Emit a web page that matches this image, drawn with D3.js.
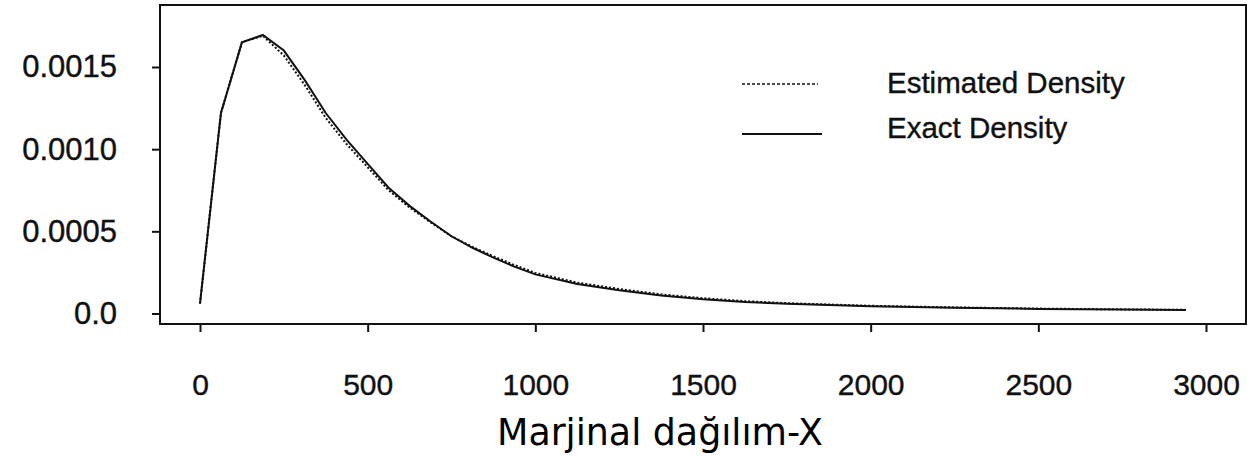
<!DOCTYPE html>
<meta charset="utf-8">
<html>
<head>
    <meta charset="UTF-8">
    <title>Marjinal dagilim-X</title>
    <script src="https://d3js.org/d3.v7.min.js"></script>
    <style>
        body { margin: 0; background: white; }
    </style>
</head>
<body>
    <svg width=1247 height=456 id="chart"></svg>
    <script>
        // values (density in units of 1e-4)
        var xs = [0, 62.5, 125, 187.5, 250, 312.5, 375, 437.5, 500, 562.5, 625, 687.5, 750, 812.5, 875, 937.5,
                  1000, 1125, 1250, 1375, 1500, 1625, 1750, 2000, 2250, 2500, 2750, 2940];
        var exact = [0.6, 12.2, 16.5, 16.95, 16.0, 14.2, 12.2, 10.56, 9.1, 7.65, 6.55, 5.6, 4.7, 4.0, 3.4, 2.85,
                     2.38, 1.8, 1.42, 1.1, 0.87, 0.7, 0.59, 0.44, 0.35, 0.28, 0.24, 0.21];
        var estimated = [0.6, 12.2, 16.5, 16.9, 15.7, 13.9, 11.9, 10.3, 8.9, 7.5, 6.45, 5.55, 4.7, 4.05, 3.48, 2.95,
                         2.47, 1.88, 1.49, 1.16, 0.93, 0.75, 0.63, 0.47, 0.37, 0.3, 0.25, 0.22];
        var xTicks = [0, 500, 1000, 1500, 2000, 2500, 3000];
        var yTicks = [0, 0.0005, 0.0010, 0.0015];
        var yTickLabels = ["0.0", "0.0005", "0.0010", "0.0015"];
        var legendLabels = ["Estimated Density", "Exact Density"];
        var xTitle = "Marjinal dağılım-X";

        var svg = d3.select("#chart");
        // frame edges (don't use "top", it is window.top)
        var frameL = 160, frameR = 1246, frameT = 5, frameB = 324;

        var x = d3.scaleLinear().domain([0, 3000]).range([200, 1206]);
        var y = d3.scaleLinear().domain([0, 0.0015]).range([313.5, 67]);

        // axes
        svg.append("g").attr("transform", "translate(0," + frameB + ")")
            .call(d3.axisBottom(x).tickValues(xTicks).tickSize(8).tickPadding(42).tickFormat(d3.format("d")))
            .call(g => g.select(".domain").remove())
            .call(g => g.selectAll("line").attr("stroke", "#111").attr("stroke-width", 2))
            .call(g => g.selectAll("text").attr("font-family", "'Liberation Sans', Arial, sans-serif")
                .attr("font-size", 30).attr("fill", "#111").attr("stroke", "#111").attr("stroke-width", 0.4));

        svg.append("g").attr("transform", "translate(" + frameL + ",0)")
            .call(d3.axisLeft(y).tickValues(yTicks).tickSize(8).tickPadding(35)
                .tickFormat((d, i) => yTickLabels[i]))
            .call(g => g.select(".domain").remove())
            .call(g => g.selectAll("line").attr("stroke", "#111").attr("stroke-width", 2))
            .call(g => g.selectAll("text").attr("font-family", "'Liberation Sans', Arial, sans-serif")
                .attr("font-size", 31).attr("fill", "#111").attr("stroke", "#111").attr("stroke-width", 0.4));

        // frame
        svg.append("rect").attr("x", frameL).attr("y", frameT)
            .attr("width", frameR - frameL).attr("height", frameB - frameT)
            .attr("fill", "none").attr("stroke", "#111").attr("stroke-width", 2);

        // curves
        var line = d3.line().x(d => x(d[0])).y(d => y(d[1] * 1e-4));
        svg.append("path").datum(xs.map((d, i) => [d, estimated[i]])).attr("d", line)
            .attr("fill", "none").attr("stroke", "#111").attr("stroke-width", 2).attr("stroke-dasharray", "2,2");
        svg.append("path").datum(xs.map((d, i) => [d, exact[i]])).attr("d", line)
            .attr("fill", "none").attr("stroke", "#111").attr("stroke-width", 2);

        // legend
        var legend = svg.append("g");
        legend.append("line").attr("x1", 742).attr("x2", 818).attr("y1", 84).attr("y2", 84)
            .attr("stroke", "#111").attr("stroke-width", 1.5).attr("stroke-dasharray", "3,2");
        legend.append("line").attr("x1", 742).attr("x2", 822).attr("y1", 134).attr("y2", 134)
            .attr("stroke", "#111").attr("stroke-width", 2);
        legend.selectAll("text").data(legendLabels).enter().append("text")
            .attr("x", 887).attr("y", (d, i) => 93 + i * 45).text(d => d)
            .attr("font-family", "'Liberation Sans', Arial, sans-serif").attr("font-size", 29.5)
            .attr("fill", "#111").attr("stroke", "#111").attr("stroke-width", 0.4);

        // x title
        svg.append("text").attr("x", 660).attr("y", 445).attr("text-anchor", "middle")
            .attr("font-family", "'DejaVu Sans Condensed', 'DejaVu Sans', sans-serif").attr("font-size", 38)
            .attr("textLength", 326).attr("lengthAdjust", "spacingAndGlyphs")
            .attr("fill", "#000").text(xTitle);
    </script>
</body>
</html>
